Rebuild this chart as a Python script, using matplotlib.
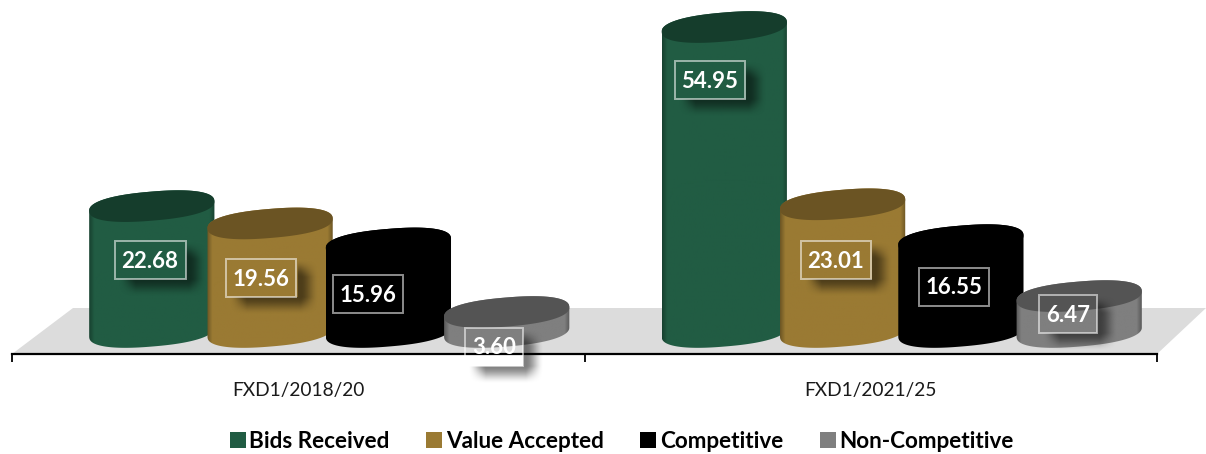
import numpy as np
import matplotlib
matplotlib.use('Agg')
import matplotlib.pyplot as plt
from matplotlib.patches import Polygon, Rectangle

plt.rcParams['font.family'] = ['Lato', 'DejaVu Sans']

categories = ['FXD1/2018/20', 'FXD1/2021/25']
series = ['Bids Received', 'Value Accepted', 'Competitive', 'Non-Competitive']
bids_received = [22.68, 54.95]
value_accepted = [19.56, 23.01]
competitive = [15.96, 16.55]
non_competitive = [3.60, 6.47]
values = [bids_received, value_accepted, competitive, non_competitive]

side_colors = ['#215c43', '#9a7a33', '#000000', '#7f7f7f']
top_colors = ['#153d2c', '#6b5423', '#000000', '#545454']

# label centres in pixels, per series then category
label_x = [[150, 710], [261, 836], [368, 954], [494, 1068]]
label_y = [[260, 80], [278, 260], [294, 287], [347, 314]]

W, H = 1206, 454
AX_L, AX_R, AX_B = 12, 1157, 354
BASE = 332            # pixel row of value 0 (centre of the bottom ellipse)
PX_UNIT = 5.55        # pixels per value unit
PX_CAT = (AX_R - AX_L) / 2
STEP = 118.3          # bar spacing, pixels
DEPTH = 31            # 3d shift of the bars to the right
A, B, TILT, ROUND = 62.8, 14.5, np.radians(4.8), 2.35


def xd(p):
    return (np.asarray(p, dtype=float) - AX_L) / PX_CAT


def yd(p):
    return (BASE - np.asarray(p, dtype=float)) / PX_UNIT


def ellipse():
    # tilted, slightly squared ellipse around the origin, data units, y up
    t = np.linspace(0, 2 * np.pi, 360, endpoint=False)
    c = np.sign(np.cos(t)) * np.abs(np.cos(t)) ** (2 / ROUND)
    s = np.sign(np.sin(t)) * np.abs(np.sin(t)) ** (2 / ROUND)
    ex = A * c * np.cos(TILT) - B * s * np.sin(TILT)
    ey = A * c * np.sin(TILT) + B * s * np.cos(TILT)
    return ex / PX_CAT, ey / PX_UNIT


def shade(color, n=125):
    # darker towards both sides of the cylinder
    rgb = np.array(matplotlib.colors.to_rgb(color))
    u = np.linspace(0, 1, n)
    edge = np.minimum(u, 1 - u)
    f = 0.72 + 0.28 * np.clip(edge / 0.04, 0, 1)
    return (f[:, None] * rgb)[None, :, :]


def cylinder(ax, x, value, side, top, z):
    ex, ey = ellipse()
    # start at the right extreme, the upper arc runs to the left extreme first
    k = np.argmax(ex)
    ex, ey = np.roll(ex, -k), np.roll(ey, -k)
    m = np.argmin(ex)
    pts = np.r_[np.c_[x + ex[:m + 1], value + ey[:m + 1]],
                np.c_[x + ex[m:], ey[m:]]]
    body = Polygon(pts, closed=True, fc='none', ec='none', zorder=z, clip_on=False)
    ax.add_patch(body)
    half = A / PX_CAT
    im = ax.imshow(shade(side), extent=(x - half, x + half, ey.min(), value + ey.max()),
                   aspect='auto', zorder=z, clip_on=True)
    im.set_clip_path(body)
    ax.add_patch(Polygon(np.c_[x + ex, value + ey], closed=True, fc=top, ec='none',
                         zorder=z + 0.1, clip_on=False))


def ramp(v, lo, hi, s):
    return np.clip((v - lo + s) / (2 * s), 0, 1) * np.clip((hi - v + s) / (2 * s), 0, 1)


def value_label(ax, cx, cy, text, renderer):
    t = ax.text(xd(cx), yd(cy + 1), text, color='white', fontsize=16, fontweight='bold',
                ha='center', va='center', zorder=30, clip_on=False)
    half_w = t.get_window_extent(renderer).width / 2 + 7
    half_h = 19
    x0, x1, y0, y1 = cx - half_w, cx + half_w, cy - half_h, cy + half_h
    # blurred drop shadow, nothing under the box itself
    px = np.arange(x0, x1 + 34)
    py = np.arange(y0, y1 + 28)
    gx, gy = np.meshgrid(px + 0.5, py + 0.5)
    a = ramp(gx, x0 + 12, x1 + 12, 9) * ramp(gy, y0 + 9, y1 + 9, 9)
    a = a * a * (3 - 2 * a) * 0.5
    a[(gx < x1) & (gy < y1)] = 0
    rgba = np.zeros(a.shape + (4,))
    rgba[..., 3] = a
    ax.imshow(rgba, extent=(xd(px[0]), xd(px[-1] + 1), yd(py[-1] + 1), yd(py[0])),
              aspect='auto', zorder=28, clip_on=False, interpolation='bilinear')
    ax.add_patch(Rectangle((xd(x0), yd(y1)), xd(x1) - xd(x0), yd(y0) - yd(y1), fc='none',
                           ec='#ffffff', alpha=0.55, lw=1.4, zorder=29, clip_on=False))


fig = plt.figure(figsize=(W / 100, H / 100), dpi=100)
ax = fig.add_axes([AX_L / W, (H - AX_B) / H, (AX_R - AX_L) / W, AX_B / H])
renderer = fig.canvas.get_renderer()

# floor of the 3d chart
ax.add_patch(Polygon(np.c_[xd([AX_L, 73, W, AX_R]), yd([AX_B, 308, 308, AX_B])], closed=True,
                     fc='#dcdcdc', ec='none', zorder=1, clip_on=False))

for i in range(len(series)):
    for j in range(len(categories)):
        x = j + 0.5 + ((i - 1.5) * STEP + DEPTH) / PX_CAT
        cylinder(ax, x, values[i][j], side_colors[i], top_colors[i], 5 + i)

for i in range(len(series)):
    for j in range(len(categories)):
        value_label(ax, label_x[i][j], label_y[i][j], f'{values[i][j]:.2f}', renderer)

ax.set_xlim(0, 2)
ax.set_ylim(yd(AX_B), yd(0))
ax.patch.set_alpha(0)
for s in ['top', 'left', 'right']:
    ax.spines[s].set_visible(False)
ax.spines['bottom'].set_linewidth(1.6)
ax.spines['bottom'].set_zorder(3)
ax.yaxis.set_visible(False)
ax.set_xticks([0, 1, 2])
ax.set_xticklabels([])
ax.tick_params(axis='x', which='major', length=6, width=1.3, color='black')
ax.set_xticks([0.5, 1.5], minor=True)
ax.set_xticklabels(categories, minor=True, fontsize=13.8, color='#1a1a1a')
ax.tick_params(axis='x', which='minor', length=0, pad=20)

handles = [Rectangle((0, 0), 1, 1, fc=c, ec='none') for c in side_colors]
fig.legend(handles, series, loc='lower left', bbox_to_anchor=(216 / W, -11 / H), ncol=4,
           frameon=False, prop={'size': 16.2, 'weight': 'bold'}, handlelength=0.72,
           handleheight=0.72, handletextpad=0.15, columnspacing=1.63, borderpad=0.1)

fig.savefig('out.png', dpi=100)
